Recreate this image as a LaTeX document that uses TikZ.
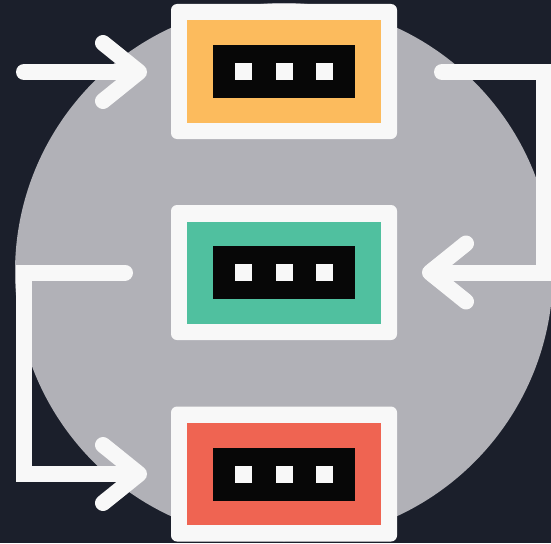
\documentclass[tikz,border=0pt]{standalone}
\usetikzlibrary{arrows.meta}
\definecolor{night}{HTML}{1B1F2B}
\definecolor{disc}{HTML}{B1B1B7}
\definecolor{chalk}{HTML}{F8F8F8}
\definecolor{ink}{HTML}{070707}
\definecolor{boxorange}{HTML}{FCBB5D}
\definecolor{boxgreen}{HTML}{50C09F}
\definecolor{boxred}{HTML}{EF6452}
\tikzset{
  panel/.style={fill=chalk, rounded corners=6pt, minimum width=226, minimum height=135, inner sep=0, outer sep=0},
  face/.style={fill=#1, minimum width=194, minimum height=102, inner sep=0},
  slot/.style={fill=ink, minimum width=142, minimum height=53, inner sep=0},
  dot/.style={fill=chalk, minimum size=17, inner sep=0},
  flow/.style={draw=chalk, line width=16pt, line cap=round, line join=miter,
    -{Straight Barb[length=36pt, width=58pt, round]}},
}
\begin{document}
\begin{tikzpicture}[x=1pt, y=-1pt]
\useasboundingbox (0, 0) rectangle (551, 543);
\fill[night] (0, 0) rectangle (551, 543);
\fill[disc] (284, 272) circle (269);

\foreach \name/\col/\y in {top/boxorange/71.5, mid/boxgreen/272.5, bot/boxred/474}{
  \node[panel] (\name) at (284, \y) {};
  \node[face=\col] (\name-face) at (\name) {};
  \node[slot] (\name-slot) at (\name) {};
  \foreach \dx in {-40.5, 0, 40.5}
    \node[dot] at ([xshift=\dx pt]\name-slot) {};
}

%%%%%%%%%%%%%%%%%%%%%%%%%%%%%%%%%%%%%%%%

\coordinate (src) at (24, 72);
\coordinate (rturn) at (544, 0);
\coordinate (lturn) at (24, 0);
\draw[flow] (src) -- ([xshift=-24pt]top.west |- src);
\draw[flow] ([xshift=45pt]top.east |- src) -| (rturn |- mid) -- ([xshift=25pt]mid.east);
\draw[flow] ([xshift=-46pt]mid.west) -| (lturn |- bot) -- ([xshift=-24pt]bot.west);
\end{tikzpicture}
\end{document}
